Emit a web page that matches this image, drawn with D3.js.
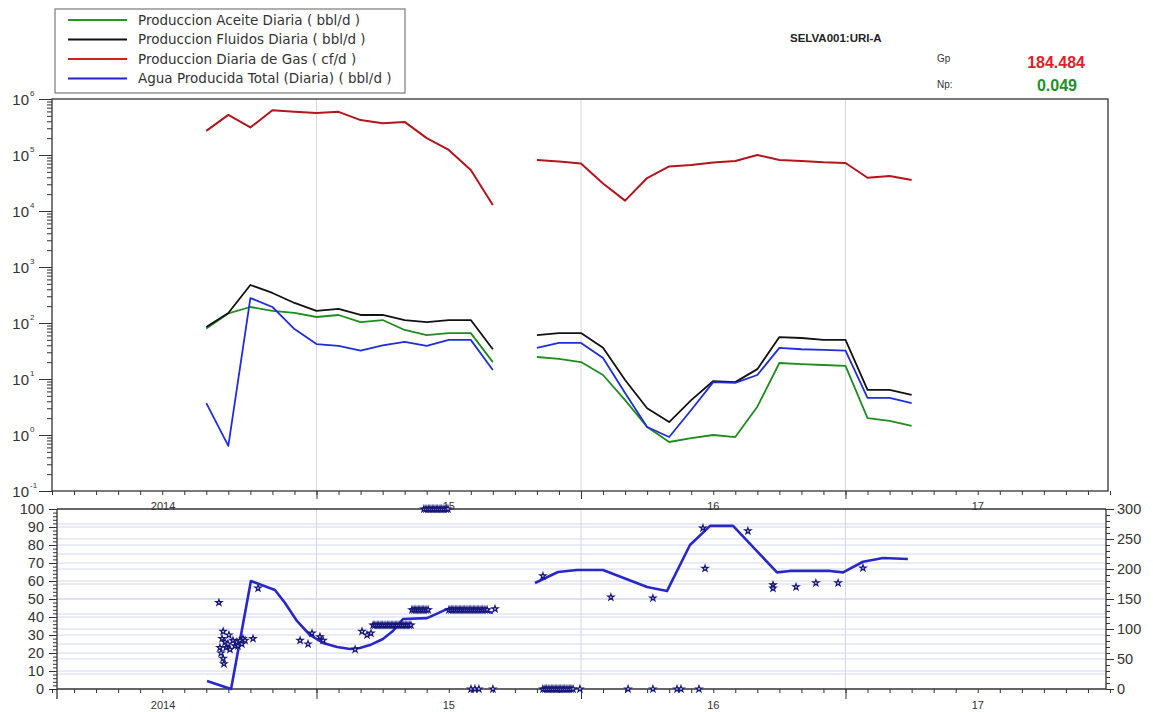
<!DOCTYPE html>
<html>
<head>
<meta charset="utf-8">
<script src="https://cdn.jsdelivr.net/npm/d3@7"></script>
<style>
  body { margin: 0; background: #fff; }
  svg { display: block; font-family: "Liberation Sans", Arial, sans-serif; }
</style>
</head>
<body>
<svg id="chart" width="1153" height="712"></svg>
<script>
// ---- Monthly production (upper panel, log scale) ----
const months = [
  "2014-08","2014-09","2014-10","2014-11","2014-12",
  "2015-01","2015-02","2015-03","2015-04","2015-05","2015-06","2015-07","2015-08","2015-09","2015-10","2015-11","2015-12",
  "2016-01","2016-02","2016-03","2016-04","2016-05","2016-06","2016-07","2016-08","2016-09","2016-10","2016-11","2016-12",
  "2017-01","2017-02","2017-03","2017-04"
];
const aceite  = [80,148,193,164,151,128,139,104,113,75,61,66,66,20, null,
                 24.7,22.8,20.1,11.8,4.2,1.39,0.75,0.88,1.0,0.92,3.2,19.3,18.5,17.8,17.1,2.0,1.78,1.45];
const fluidos = [85,151,477,344,228,164,178,139,139,113,104,113,113,34, null,
                 61,66,66,36,9.6,3.0,1.7,4.2,9.2,8.8,15,56,54,50,50,6.4,6.4,5.2];
const gas     = [270000,520000,310000,630000,590000,560000,590000,420000,370000,390000,200000,123000,54000,12800, null,
                 81500,76600,70500,31000,15300,38800,62400,66300,73500,78100,100000,81500,78100,74100,71900,39300,42200,35800];
const agua    = [3.7,0.64,279,193,78,42,39,32,40,46,39,50,50,14.5, null,
                 35.8,44,44,23.7,5.6,1.39,0.92,2.8,8.8,8.5,11.8,36,34,33,32,4.6,4.6,3.7];

const seriesNames  = ["Produccion Aceite Diaria ( bbl/d )", "Produccion Fluidos Diaria ( bbl/d )",
                      "Produccion Diaria de Gas ( cf/d )", "Agua Producida Total (Diaria) ( bbl/d )"];
const seriesColors = ["#1e8c1e", "#111111", "#b3151c", "#1f2ed6"];
const legendColors = ["#1f9a1f", "#111111", "#d42020", "#2222c8"];

// ---- Lower panel: trend line (decimal year, value) ----
const trendYears = [2014.586,2014.677,2014.752,2014.843,2014.881,2014.926,2014.975,2015.025,2015.078,2015.127,
                    2015.164,2015.202,2015.251,2015.289,2015.327,2015.418,2015.493,2015.630,2015.667,
                    null,
                    2015.826,2015.913,2015.985,2016.083,2016.250,2016.325,2016.412,2016.488,2016.575,
                    2016.741,2016.790,2016.941,2016.991,2017.066,2017.142,2017.236];
const trendValues = [4.4,0,60,55,47.8,37.8,30,25.6,23.3,22.2,22.8,24.4,27.8,32.2,38.9,39.4,44.4,43.9,42.2,
                     null,
                     58.9,65,66.1,66.1,56.7,54.4,80,90.6,90.6,64.8,65.6,65.6,64.8,70.7,72.8,72.2];

// ---- Lower panel: scattered measurements (decimal year, value) ----
const pointYears = [
  2014.631,2014.647,2014.643,2014.669,2014.684,2014.635,2014.658,2014.673,2014.647,2014.650,2014.639,2014.654,
  2014.665,2014.692,2014.699,2014.703,2014.711,2014.718,2014.722,2014.730,2014.760,2014.779,
  2014.938,2014.968,2014.983,2015.013,2015.025,2015.146,2015.172,2015.191,2015.206,
  2015.675,2015.584,2015.599,2015.614,2015.667,
  2015.856,2016.113,2016.272,2016.461,2016.469,2016.631,2016.726,2016.726,2016.813,2016.888,2016.972,2017.066,
  2015.996,2016.178,2016.272,2016.363,2016.378,2016.446
];
const pointValues = [
  48,32,28,30,27,23,23,22,17,14,20,26,
  25,24,26,24,27,25,28,27,28,56,
  27,25,31,29,27,22,32,30,31,
  44.5,0,0,0,0,
  62.8,51,50.5,89.4,67,87.8,57.8,56,56.7,58.9,58.9,67.2,
  0,0,0,0,0,0
];

// ---- Lower panel: daily readings during continuous test periods ----
const dailyYears = [
  2015.214,2015.221,2015.229,2015.236,2015.244,2015.251,2015.259,2015.267,2015.274,2015.282,
  2015.289,2015.297,2015.304,2015.312,2015.320,2015.327,2015.335,2015.342,2015.350,2015.357,
  2015.361,2015.369,2015.376,2015.384,2015.391,2015.399,2015.406,2015.414,2015.422,
  2015.406,2015.414,2015.422,2015.429,2015.437,2015.444,2015.452,2015.459,2015.467,2015.474,2015.482,2015.490,2015.497,
  2015.501,2015.509,2015.516,2015.524,2015.531,2015.539,2015.546,2015.554,2015.561,2015.569,
  2015.577,2015.584,2015.592,2015.599,2015.607,2015.614,2015.622,2015.629,2015.637,2015.645,
  2015.856,2015.864,2015.871,2015.879,2015.887,2015.894,2015.902,2015.909,2015.917,2015.924,
  2015.932,2015.939,2015.947,2015.955,2015.962,2015.970
];
const dailyValues = [
  35.5,35.5,35.5,35.5,35.5,35.5,35.5,35.5,35.5,35.5,
  35.5,35.5,35.5,35.5,35.5,35.5,35.5,35.5,35.5,35.5,
  44,44,44,44,44,44,44,44,44,
  100,100,100,100,100,100,100,100,100,100,100,100,100,
  44,44,44,44,44,44,44,44,44,44,
  44,44,44,44,44,44,44,44,44,44,
  0,0,0,0,0,0,0,0,0,0,
  0,0,0,0,0,0
];

// ---- Axis labels ----
const yearLabels    = ["2014", "15", "16", "17"];
const yearLabelPos  = [2014.42, 2015.5, 2016.5, 2017.5];
const logMajors     = [0.1, 1, 10, 100, 1000, 10000, 100000, 1000000];
const leftTicks     = [0,10,20,30,40,50,60,70,80,90,100];
const rightTicks    = [0,50,100,150,200,250,300];

const svg = d3.select("#chart");
const ink = "#333";
const gridCol = "#d3d6ec";

// Scales
const x = d3.scaleLinear().domain([2014, 2018]).range([52, 1110]);
const upP = { l: 52, r: 1108, t: 99, b: 491 };
const loP = { l: 57, r: 1106, t: 509, b: 689 };
const yTop = d3.scaleLog().domain([0.1, 1e6]).range([upP.b, upP.t]);
const yBotL = d3.scaleLinear().domain([0, 100]).range([loP.b, loP.t]);
const yBotR = d3.scaleLinear().domain([0, 300]).range([loP.b, loP.t]);

const monthToYear = m => { const [y, mo] = m.split("-").map(Number); return y + (mo - 1) / 12; };
const monthTicks = d3.range(0, 49).map(i => 2014 + i / 12);
const yearTicks = [2015, 2016, 2017];

function tickAxis(g, axis) {
  g.call(axis).call(s => s.select(".domain").remove());
  g.selectAll("line").attr("stroke", ink);
}

// ================= Upper panel =================
const gT = svg.append("g");

// vertical year grid
gT.selectAll("line.vg").data(yearTicks).join("line")
  .attr("x1", d => x(d)).attr("x2", d => x(d))
  .attr("y1", upP.t).attr("y2", upP.b)
  .attr("stroke", gridCol).attr("stroke-width", 1);

// log axis ticks
const logMinors = [];
for (let e = -1; e < 6; e++) for (let k = 2; k <= 9; k++) logMinors.push(k * Math.pow(10, e));
tickAxis(gT.append("g").attr("transform", `translate(${upP.l},0)`),
  d3.axisLeft(yTop).tickValues(logMinors).tickSize(5).tickSizeOuter(0).tickFormat(""));
tickAxis(gT.append("g").attr("transform", `translate(${upP.l},0)`),
  d3.axisLeft(yTop).tickValues(logMajors).tickSize(13).tickSizeOuter(0).tickFormat(""));

// log labels 10^n
logMajors.forEach(v => {
  const e = Math.round(Math.log10(v));
  gT.append("text").attr("x", 29).attr("y", yTop(v) + 6)
    .attr("text-anchor", "end").attr("font-size", 15).attr("fill", ink).text("10");
  gT.append("text").attr("x", 30).attr("y", yTop(v) - 3)
    .attr("font-size", 8).attr("fill", ink).text(e);
});

// time axis under upper panel
tickAxis(gT.append("g").attr("transform", `translate(0,${upP.b})`),
  d3.axisBottom(x).tickValues(monthTicks).tickSize(4).tickSizeOuter(0).tickFormat(""));
tickAxis(gT.append("g").attr("transform", `translate(0,${upP.b})`),
  d3.axisBottom(x).tickValues(yearTicks).tickSize(8).tickSizeOuter(0).tickFormat(""));

// frame
gT.append("rect").attr("x", upP.l).attr("y", upP.t)
  .attr("width", upP.r - upP.l).attr("height", upP.b - upP.t)
  .attr("fill", "none").attr("stroke", ink).attr("stroke-width", 1.3);

// series lines
const allSeries = [aceite, fluidos, gas, agua];
allSeries.forEach((vals, i) => {
  const pts = months.map((m, j) => ({ t: monthToYear(m), v: vals[j] }));
  const line = d3.line().defined(d => d.v != null).x(d => x(d.t)).y(d => yTop(d.v));
  gT.append("path").datum(pts).attr("d", line)
    .attr("fill", "none").attr("stroke", seriesColors[i])
    .attr("stroke-width", i === 2 ? 2 : 1.8).attr("stroke-linejoin", "round");
});

// upper year labels
gT.selectAll("text.yl").data(yearLabels).join("text")
  .attr("x", (d, i) => x(yearLabelPos[i])).attr("y", 510)
  .attr("text-anchor", "middle").attr("font-size", 11).attr("fill", ink).text(d => d);

// ================= Lower panel =================
const gB = svg.append("g");

// grid
gB.selectAll("line.hl").data(d3.range(10, 100, 10)).join("line")
  .attr("x1", loP.l).attr("x2", loP.r).attr("y1", d => yBotL(d)).attr("y2", d => yBotL(d))
  .attr("stroke", gridCol).attr("stroke-width", 1);
gB.selectAll("line.hr").data(d3.range(25, 300, 25)).join("line")
  .attr("x1", loP.l).attr("x2", loP.r).attr("y1", d => yBotR(d)).attr("y2", d => yBotR(d))
  .attr("stroke", gridCol).attr("stroke-width", 1);
gB.selectAll("line.vg").data(yearTicks).join("line")
  .attr("x1", d => x(d)).attr("x2", d => x(d))
  .attr("y1", loP.t).attr("y2", loP.b)
  .attr("stroke", gridCol).attr("stroke-width", 1);

// left axis
tickAxis(gB.append("g").attr("transform", `translate(${loP.l},0)`),
  d3.axisLeft(yBotL).tickValues(d3.range(0, 101, 2)).tickSize(4).tickSizeOuter(0).tickFormat(""));
tickAxis(gB.append("g").attr("transform", `translate(${loP.l},0)`),
  d3.axisLeft(yBotL).tickValues(leftTicks).tickSize(8).tickSizeOuter(0).tickFormat(""));
gB.selectAll("text.lt").data(leftTicks).join("text")
  .attr("x", 44).attr("y", d => yBotL(d) + 5)
  .attr("text-anchor", "end").attr("font-size", 14.5).attr("fill", ink).text(d => d);

// right axis
tickAxis(gB.append("g").attr("transform", `translate(${loP.r},0)`),
  d3.axisRight(yBotR).tickValues(d3.range(0, 301, 10)).tickSize(4).tickSizeOuter(0).tickFormat(""));
tickAxis(gB.append("g").attr("transform", `translate(${loP.r},0)`),
  d3.axisRight(yBotR).tickValues(rightTicks).tickSize(8).tickSizeOuter(0).tickFormat(""));
gB.selectAll("text.rt").data(rightTicks).join("text")
  .attr("x", 1117).attr("y", d => yBotR(d) + 5)
  .attr("font-size", 14.5).attr("fill", ink).text(d => d);

// bottom time axis
tickAxis(gB.append("g").attr("transform", `translate(0,${loP.b})`),
  d3.axisBottom(x).tickValues(monthTicks).tickSize(4).tickSizeOuter(0).tickFormat(""));
tickAxis(gB.append("g").attr("transform", `translate(0,${loP.b})`),
  d3.axisBottom(x).tickValues(yearTicks).tickSize(10).tickSizeOuter(0).tickFormat(""));
gB.selectAll("text.bl").data(yearLabels).join("text")
  .attr("x", (d, i) => x(yearLabelPos[i])).attr("y", 709)
  .attr("text-anchor", "middle").attr("font-size", 11).attr("fill", ink).text(d => d);

// frame
gB.append("line").attr("x1", loP.l).attr("x2", loP.r).attr("y1", loP.t).attr("y2", loP.t)
  .attr("stroke", ink).attr("stroke-width", 1.3);
gB.append("line").attr("x1", loP.l).attr("x2", loP.r).attr("y1", loP.b).attr("y2", loP.b)
  .attr("stroke", ink).attr("stroke-width", 1.3);
gB.append("line").attr("x1", loP.l).attr("x2", loP.l).attr("y1", loP.t).attr("y2", loP.b + 10)
  .attr("stroke", ink).attr("stroke-width", 1.3);
gB.append("line").attr("x1", loP.r).attr("x2", loP.r).attr("y1", loP.t).attr("y2", loP.b)
  .attr("stroke", ink).attr("stroke-width", 1.3);

// trend line
const trend = trendYears.map((t, i) => ({ t, v: trendValues[i] }));
gB.append("path").datum(trend)
  .attr("d", d3.line().defined(d => d.t != null).x(d => x(d.t)).y(d => yBotL(d.v)))
  .attr("fill", "none").attr("stroke", "#2828c8").attr("stroke-width", 2.6).attr("stroke-linejoin", "round");

// measurement markers
const star = d3.symbol().type(d3.symbolStar).size(12);
const marks = pointYears.map((t, i) => ({ t, v: pointValues[i] }))
  .concat(dailyYears.map((t, i) => ({ t, v: dailyValues[i] })));
gB.selectAll("path.pt").data(marks).join("path")
  .attr("transform", d => `translate(${x(d.t)},${yBotL(d.v)})`)
  .attr("d", star).attr("fill", "#eef").attr("stroke", "#16167a").attr("stroke-width", 1.2);

// ================= Legend & header =================
const lg = svg.append("g");
lg.append("rect").attr("x", 55).attr("y", 9).attr("width", 350).attr("height", 84)
  .attr("fill", "#fff").attr("stroke", "#7a7a7a").attr("stroke-width", 1.2);
seriesNames.forEach((name, i) => {
  const yy = 20 + i * 19.5;
  lg.append("line").attr("x1", 68).attr("x2", 127).attr("y1", yy).attr("y2", yy)
    .attr("stroke", legendColors[i]).attr("stroke-width", 1.8);
  lg.append("text").attr("x", 138).attr("y", yy + 4.5).attr("font-size", 13.5)
    .attr("font-family", "'DejaVu Sans', sans-serif")
    .attr("fill", ink).text(name);
});

svg.append("text").attr("x", 790).attr("y", 42).attr("font-size", 11.5).attr("font-weight", "bold")
  .attr("fill", "#222").text("SELVA001:URI-A");
svg.append("text").attr("x", 937).attr("y", 62).attr("font-size", 10).attr("fill", ink).text("Gp");
svg.append("text").attr("x", 1085).attr("y", 68).attr("text-anchor", "end").attr("font-size", 16)
  .attr("font-weight", "bold").attr("fill", "#e41d2b").text("184.484");
svg.append("text").attr("x", 937).attr("y", 88).attr("font-size", 10).attr("fill", ink).text("Np:");
svg.append("text").attr("x", 1077).attr("y", 91).attr("text-anchor", "end").attr("font-size", 16)
  .attr("font-weight", "bold").attr("fill", "#1f8f2a").text("0.049");
</script>
</body>
</html>
